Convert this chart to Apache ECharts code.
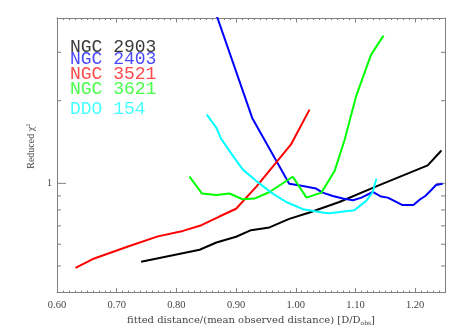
<!DOCTYPE html>
<html>
<head>
<meta charset="utf-8">
<script src="https://cdn.jsdelivr.net/npm/echarts@6/dist/echarts.min.js"></script>
<style>
  html, body { margin: 0; padding: 0; background: #fff; }
  #chart { width: 463px; height: 331px; }
</style>
</head>
<body>
<div id="chart"></div>
<script>
// reduced chi^2 against fitted distance, one curve per galaxy
var xMin = 0.60, xMax = 1.25;
var yMin = 0.4, yMax = 4;
var yTicks = [0.5, 0.6, 0.7, 0.8, 0.9, 1, 2, 3];

var names = ['NGC 2903', 'NGC 2403', 'NGC 3521', 'NGC 3621', 'DDO 154'];
var colors = ['#000000', '#0000ff', '#ff0000', '#00ff00', '#00ffff'];
var textColors = ['#3a3a3a', '#4a4aff', '#ff4a4a', '#4aff4a', '#4affff'];

var n2903X = [0.741, 0.839, 0.867, 0.900, 0.925, 0.956, 0.989, 1.023, 1.073, 1.140, 1.221, 1.244];
var n2903Y = [0.518, 0.573, 0.609, 0.639, 0.675, 0.691, 0.742, 0.783, 0.855, 0.985, 1.162, 1.317];

var n2403X = [0.865, 0.927, 0.989, 1.012, 1.034, 1.045, 1.062, 1.079, 1.096, 1.110, 1.129, 1.143, 1.154, 1.165, 1.178, 1.197, 1.207, 1.217, 1.227, 1.235, 1.246];
var n2403Y = [4.23, 1.731, 0.997, 0.978, 0.957, 0.925, 0.899, 0.880, 0.868, 0.887, 0.930, 0.895, 0.887, 0.863, 0.834, 0.834, 0.870, 0.899, 0.946, 0.986, 0.997];

var n3521X = [0.631, 0.660, 0.719, 0.769, 0.811, 0.842, 0.872, 0.900, 0.934, 0.967, 0.992, 1.023];
var n3521Y = [0.492, 0.530, 0.589, 0.641, 0.671, 0.704, 0.757, 0.808, 0.973, 1.189, 1.385, 1.855];

var n3621X = [0.822, 0.843, 0.867, 0.889, 0.911, 0.931, 0.956, 0.995, 1.018, 1.043, 1.065, 1.082, 1.101, 1.126, 1.147];
var n3621Y = [1.057, 0.918, 0.907, 0.918, 0.875, 0.880, 0.930, 1.057, 0.887, 0.925, 1.108, 1.444, 2.073, 2.937, 3.451];

var d154X = [0.851, 0.867, 0.875, 0.895, 0.911, 0.934, 0.959, 0.984, 1.012, 1.045, 1.056, 1.098, 1.118, 1.129, 1.135];
var d154Y = [1.780, 1.592, 1.452, 1.256, 1.124, 1.019, 0.925, 0.855, 0.805, 0.783, 0.778, 0.798, 0.863, 0.930, 1.040];

var curves = [[n2903X, n2903Y], [n2403X, n2403Y], [n3521X, n3521Y], [n3621X, n3621Y], [d154X, d154Y]];

var frame = '#808080';
var textCol = '#444';
var serif = 'Liberation Serif';

function zip(xs, ys) {
	var out = [];
	for (var i = 0; i < xs.length; i++) {
		out.push([xs[i], ys[i]]);
	}
	return out;
}

function xAxisAt(pos, labels) {
	return {
		type: 'value',
		position: pos,
		min: xMin,
		max: xMax,
		interval: 0.1,
		axisLine: { show: true, onZero: false, lineStyle: { color: frame, width: 1 } },
		axisTick: { show: true, inside: true, length: 4.5, lineStyle: { color: frame } },
		minorTick: { show: true, splitNumber: 10, length: 2, lineStyle: { color: frame } },
		splitLine: { show: false },
		axisLabel: {
			show: labels,
			margin: 7,
			color: textCol,
			fontFamily: serif,
			fontSize: 10.5,
			showMaxLabel: false,
			formatter: function (v) { return v.toFixed(2); }
		}
	};
}

function yAxisAt(pos, labels) {
	return {
		type: 'log',
		position: pos,
		min: yMin,
		max: yMax,
		axisLine: { show: true, onZero: false, lineStyle: { color: frame, width: 1 } },
		axisTick: { show: false },
		splitLine: { show: false },
		axisLabel: {
			show: labels,
			margin: 5,
			color: textCol,
			fontFamily: serif,
			fontSize: 10,
			formatter: function (v) { return Math.abs(v - 1) < 1e-6 ? '1' : ''; }
		}
	};
}

var series = [];
curves.forEach(function (c, i) {
	series.push({
		name: names[i],
		type: 'line',
		data: zip(c[0], c[1]),
		showSymbol: false,
		clip: true,
		lineStyle: { color: colors[i], width: 2 },
		z: 3
	});
});

// y ticks on both frame sides (log axis cannot place them at 2, 3, 0.5 ...)
series.push({
	type: 'custom',
	silent: true,
	clip: false,
	z: 2,
	data: yTicks.map(function (v) { return [xMin, v]; }),
	encode: { x: 0, y: 1 },
	renderItem: function (params, api) {
		var v = api.value(1);
		var l = api.coord([xMin, v]);
		var r = api.coord([xMax, v]);
		var len = v === 1 ? 9 : 4;
		return {
			type: 'group',
			children: [
				{ type: 'line', shape: { x1: l[0], y1: l[1], x2: l[0] + len, y2: l[1] }, style: { stroke: frame, lineWidth: 1 } },
				{ type: 'line', shape: { x1: r[0], y1: r[1], x2: r[0] - len, y2: r[1] }, style: { stroke: frame, lineWidth: 1 } }
			]
		};
	}
});

// legend as plain coloured text, spacing as in the original
var legendY = [47.5, 59, 74, 89.5, 109];
var legendText = names.map(function (n, i) {
	return {
		type: 'text',
		left: 70,
		top: legendY[i] - 9,
		style: {
			text: n,
			fill: textColors[i],
			font: '18px "Liberation Mono"'
		}
	};
});

var xA = xAxisAt('bottom', true);
xA.name = 'fitted distance/(mean observed distance) [D/D{sub|obs}]';
xA.nameLocation = 'middle';
xA.nameGap = 17;
xA.nameTextStyle = {
	color: textCol,
	fontFamily: 'DejaVu Serif',
	fontSize: 10,
	rich: { sub: { fontSize: 6, verticalAlign: 'bottom', padding: [5, 0, 0, 0], color: textCol, fontFamily: 'DejaVu Serif' } }
};

var yA = yAxisAt('left', true);
yA.name = 'Reduced χ{sup|2}';
yA.nameLocation = 'middle';
yA.nameRotate = 90;
yA.nameGap = 7;
yA.nameTextStyle = {
	color: textCol,
	fontFamily: serif,
	fontSize: 10,
	padding: [0, 0, 0, 18],
	rich: { sup: { fontSize: 6, verticalAlign: 'top', padding: [0, 0, 5, 0], color: textCol, fontFamily: serif } }
};

var chart = echarts.init(document.getElementById('chart'), null, { renderer: 'canvas' });
chart.setOption({
	animation: false,
	backgroundColor: '#fff',
	grid: { left: 57, right: 18, top: 18, bottom: 37, containLabel: false },
	xAxis: [xA, xAxisAt('top', false)],
	yAxis: [yA, yAxisAt('right', false)],
	graphic: legendText,
	series: series
});
</script>
</body>
</html>
